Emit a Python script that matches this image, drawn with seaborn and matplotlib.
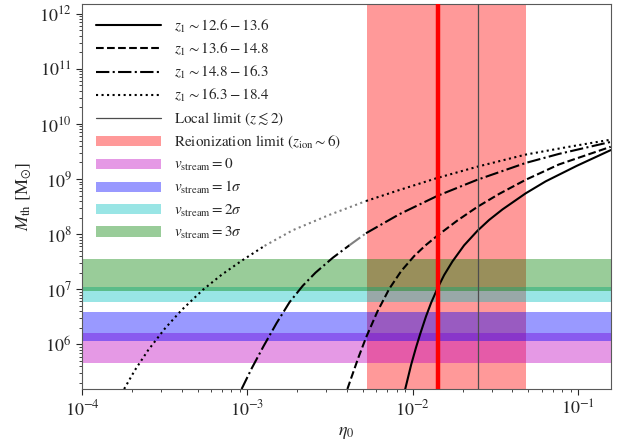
import numpy as np
import pandas as pd
import matplotlib
matplotlib.use("Agg")
import matplotlib.pyplot as plt
import seaborn as sns
from matplotlib.patches import Patch
from matplotlib.lines import Line2D

# ---------------- data ----------------
curve_labels = [r"$z_1\sim12.6-13.6$", r"$z_1\sim13.6-14.8$",
                r"$z_1\sim14.8-16.3$", r"$z_1\sim16.3-18.4$"]

solid_eta = [8.99e-3, 9.29e-3, 9.77e-3, 1.044e-2, 1.109e-2, 1.2e-2, 1.29e-2, 1.41e-2, 1.545e-2,
             1.735e-2, 2.04e-2, 2.455e-2, 2.89e-2, 3.48e-2, 4.81e-2, 6.35e-2, 9.8e-2, 0.157]
solid_M   = [1.55e5, 2.32e5, 4.31e5, 8.71e5, 1.57e6, 3.21e6, 5.71e6, 1.047e7, 1.81e7,
             3.2e7, 6.27e7, 1.15e8, 1.81e8, 2.81e8, 5.51e8, 9.08e8, 1.74e9, 3.35e9]

dashed_eta = [4.02e-3, 4.24e-3, 4.685e-3, 5.21e-3, 6.10e-3, 7.2e-3, 8.51e-3, 1.02e-2, 1.188e-2,
              1.41e-2, 1.854e-2, 2.455e-2, 3.32e-2, 4.81e-2, 7.64e-2, 0.157]
dashed_M   = [1.55e5, 2.46e5, 5.77e5, 1.33e6, 3.93e6, 1.02e7, 2.15e7, 4.03e7, 6.21e7,
              9.46e7, 1.76e8, 3.13e8, 5.37e8, 9.7e8, 1.84e9, 3.85e9]

dashdot_eta = [9.22e-4, 1.06e-3, 1.252e-3, 1.5e-3, 1.797e-3, 2.161e-3, 2.578e-3, 3.28e-3,
               4.135e-3, 5.21e-3, 8.28e-3, 1.41e-2, 2.445e-2, 4.81e-2, 7.64e-2, 0.157]
dashdot_M   = [1.55e5, 3.65e5, 9.31e5, 2.43e6, 5.83e6, 1.16e7, 2.0e7, 3.73e7,
               6.29e7, 1.04e8, 2.3e8, 4.97e8, 9.68e8, 1.96e9, 2.86e9, 4.72e9]

dotted_eta = [1.797e-4, 2.088e-4, 2.51e-4, 3.17e-4, 3.995e-4, 5.39e-4, 6.99e-4, 9.19e-4, 1.27e-3,
              1.88e-3, 3.13e-3, 5.21e-3, 8.28e-3, 1.41e-2, 2.515e-2, 4.81e-2, 8.78e-2, 0.157]
dotted_M   = [1.55e5, 3.41e5, 7.85e5, 1.94e6, 4.18e6, 9.84e6, 1.84e7, 3.27e7, 6.14e7,
              1.18e8, 2.24e8, 3.99e8, 6.32e8, 1.05e9, 1.71e9, 2.78e9, 3.85e9, 5.18e9]

# eta ranges where the curve is drawn in grey
gray_ranges = [None, None, (4.135e-3, 5.21e-3), (1.27e-3, 5.21e-3)]

local_limit_eta = 0.0248
reion_eta_range = (5.25e-3, 0.0483)
reion_best_eta = 0.0142

stream_labels = [r"$v_{\rm stream}=0$", r"$v_{\rm stream}=1\sigma$",
                 r"$v_{\rm stream}=2\sigma$", r"$v_{\rm stream}=3\sigma$"]
stream_low  = [4.6e5, 1.15e6, 5.8e6, 9.25e6]
stream_high = [1.58e6, 3.85e6, 1.1e7, 3.6e7]
stream_colors = ["m", "b", "c", "g"]

# ---------------- style ----------------
sns.set_style("ticks")
plt.rcParams["font.family"] = ["STIXGeneral", "DejaVu Serif"]
plt.rcParams["mathtext.fontset"] = "stix"
plt.rcParams["axes.edgecolor"] = "0.35"
plt.rcParams["xtick.color"] = "0.15"
plt.rcParams["ytick.color"] = "0.15"

fig = plt.figure(figsize=(6.2, 4.41), dpi=100)
ax = fig.add_axes([0.1323, 0.1179, 0.985 - 0.1323, 0.9909 - 0.1179])

# bands
ax.axvspan(*reion_eta_range, color="red", alpha=0.4, lw=0, zorder=1)
for lo, hi, c in zip(stream_low, stream_high, stream_colors):
    ax.axhspan(lo, hi, color=c, alpha=0.4, lw=0, zorder=1)

# curves
styles = ["-", "--", "-.", ":"]
curves = [(solid_eta, solid_M), (dashed_eta, dashed_M),
          (dashdot_eta, dashdot_M), (dotted_eta, dotted_M)]
for (eta, M), ls, gr in zip(curves, styles, gray_ranges):
    eta = np.asarray(eta); M = np.asarray(M)
    if gr is None:
        parts = [(np.ones_like(eta, bool), "k")]
    else:
        parts = [(eta <= gr[0], "k"),
                 ((eta >= gr[0]) & (eta <= gr[1]), "0.5"),
                 (eta >= gr[1], "k")]
    for mask, col in parts:
        df = pd.DataFrame({"eta": eta[mask], "M": M[mask]})
        sns.lineplot(data=df, x="eta", y="M", ax=ax, color=col, linestyle=ls,
                     lw=1.5, estimator=None, sort=False, zorder=3)

ax.axvline(local_limit_eta, color="0.3", lw=0.9, zorder=4)
ax.axvline(reion_best_eta, color="red", lw=3.2, zorder=5)

ax.set_xscale("log")
ax.set_yscale("log")
ax.set_xlim(1e-4, 0.157)
ax.set_ylim(1.55e5, 1.5e12)
ax.set_xlabel(r"$\eta_0$", fontsize=13)
ax.set_ylabel(r"$M_{\rm th}\ [\rm M_{\odot}]$", fontsize=13)
ax.tick_params(axis="both", which="major", labelsize=13, length=4)
ax.tick_params(axis="both", which="minor", length=2)
for s in ax.spines.values():
    s.set_visible(True)

handles = [Line2D([], [], color="k", ls=ls, lw=1.5) for ls in styles]
handles.append(Line2D([], [], color="0.3", lw=0.9))
handles.append(Patch(color="red", alpha=0.4, lw=0))
handles += [Patch(color=c, alpha=0.4, lw=0) for c in stream_colors]
labels = curve_labels + [r"Local limit ($z\lesssim2$)",
                         r"Reionization limit ($z_{\rm ion}\sim6$)"] + stream_labels
ax.legend(handles, labels, loc="upper left", frameon=False, fontsize=10.9,
          handlelength=4.3, labelspacing=0.4, handletextpad=0.9,
          borderaxespad=0.5)

fig.savefig("out.png", dpi=100)
